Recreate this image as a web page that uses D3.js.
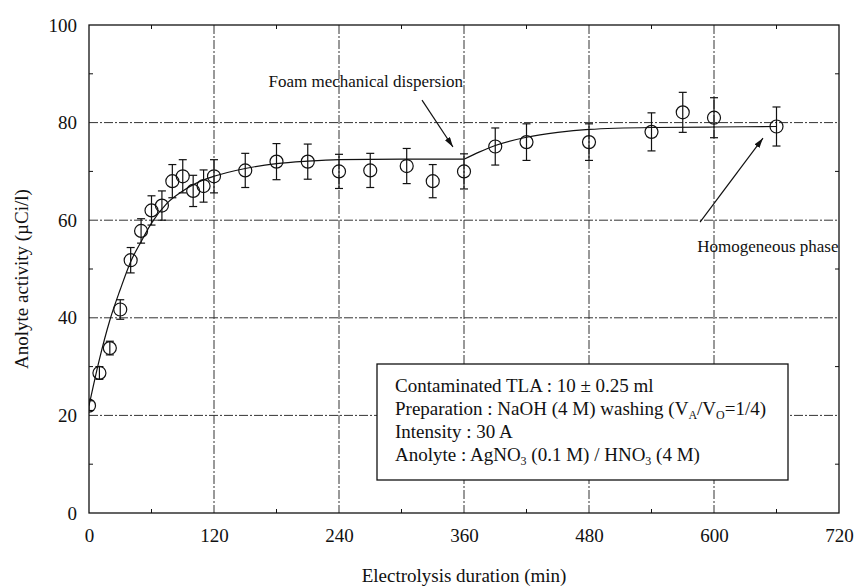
<!DOCTYPE html>
<html><head><meta charset="utf-8">
<script src="https://cdn.jsdelivr.net/npm/d3@7"></script>
<style>body{margin:0;background:#fff;} svg{display:block;} text{font-family:"Liberation Serif","Times New Roman",serif;fill:#111;}</style>
</head><body>
<svg id="chart" width="857" height="586"></svg>
<script>
// ---- data ----
const times    = [0,10,20,30,40,50,60,70,80,90,100,110,120,150,180,210,240,270,305,330,360,390,420,480,540,570,600,660];
const activity = [22,28.7,33.8,41.7,51.8,57.8,62,63,68,69,66,67,69,70.2,72,72,70,70.2,71.1,68,70,75.1,76,76,78.1,82.1,81,79.2];
const errors   = [1.0,1.3,1.4,2.0,2.6,2.5,3.0,3.0,3.4,3.4,3.2,3.3,3.4,3.5,3.7,3.6,3.5,3.5,3.6,3.4,3.6,3.8,3.75,3.75,3.9,4.1,4.1,4.0];
// fitted curve (two segments, kink at 360 min)
const fitTimes1  = [0,10,20,30,40,50,60,75,90,105,120,150,180,210,240,300,360];
const fitValues1 = [22,31.5,39.5,45.8,51.5,55.6,59.4,63.5,66,67.8,69,70.6,71.6,72.1,72.4,72.5,72.5];
const fitTimes2  = [360,375,390,420,450,480,540,600,660];
const fitValues2 = [72.5,74,75.3,77,78,78.6,79,79.1,79.2];
const xTicks = [0,120,240,360,480,600,720];
const yTicks = [0,20,40,60,80,100];
const xMinor = [60,180,300,420,540,660];
const yMinor = [10,30,50,70,90];
const xLabel = "Electrolysis duration (min)";
const yLabel = "Anolyte activity (µCi/l)";
const annotations = [
  {text:"Foam mechanical dispersion", tx:359, ty:87.3, anchor:"end", from:[319.7,84.6], to:[349.4,75]},
  {text:"Homogeneous phase", tx:584, ty:53.5, anchor:"start", from:[586.6,59.6], to:[647,76.8]}
];
const boxLines = [
  [{t:"Contaminated TLA : 10 ± 0.25 ml"}],
  [{t:"Preparation : NaOH (4 M) washing (V"},{t:"A",sub:true},{t:"/V"},{t:"O",sub:true},{t:"=1/4)"}],
  [{t:"Intensity : 30 A"}],
  [{t:"Anolyte : AgNO"},{t:"3",sub:true},{t:" (0.1 M) / HNO"},{t:"3",sub:true},{t:" (4 M)"}]
];

// ---- layout ----
const svg = d3.select("#chart");
const L = 89, R = 839, T = 25, B = 513;
const x = d3.scaleLinear().domain([0,720]).range([L,R]);
const y = d3.scaleLinear().domain([0,100]).range([B,T]);
const FS = 19;

svg.append("defs").append("clipPath").attr("id","clip")
  .append("rect").attr("x",L).attr("y",T).attr("width",R-L).attr("height",B-T);
const marker = svg.select("defs").append("marker").attr("id","arr")
  .attr("viewBox","0 0 10 6").attr("refX",10).attr("refY",3)
  .attr("markerWidth",10).attr("markerHeight",6).attr("markerUnits","userSpaceOnUse").attr("orient","auto");
marker.append("path").attr("d","M0,0L10,3L0,6Z").attr("fill","#111");

// grid
const grid = svg.append("g").attr("stroke","#333").attr("stroke-width",1).attr("stroke-dasharray","9,2,2,2");
grid.selectAll("line.gx").data(xTicks.slice(1,-1)).join("line")
  .attr("x1",d=>x(d)).attr("x2",d=>x(d)).attr("y1",T).attr("y2",B);
grid.selectAll("line.gy").data(yTicks.slice(1,-1)).join("line")
  .attr("y1",d=>y(d)).attr("y2",d=>y(d)).attr("x1",L).attr("x2",R);

// axes (labels) using d3 axis generators
const xAxis = svg.append("g").attr("transform",`translate(0,${B})`)
  .call(d3.axisBottom(x).tickValues(xTicks).tickSize(0).tickPadding(11));
const yAxis = svg.append("g").attr("transform",`translate(${L},0)`)
  .call(d3.axisLeft(y).tickValues(yTicks).tickSize(0).tickPadding(12));
[xAxis,yAxis].forEach(a=>{a.select(".domain").remove();
  a.selectAll("text").attr("font-size",FS).attr("font-family","Liberation Serif, serif").attr("fill","#111");});
xAxis.selectAll("text").attr("dy","0.95em");

// minor ticks on all sides (inward)
const tk = svg.append("g").attr("stroke","#111").attr("stroke-width",1);
xMinor.forEach(d=>{
  tk.append("line").attr("x1",x(d)).attr("x2",x(d)).attr("y1",B).attr("y2",B-4);
  tk.append("line").attr("x1",x(d)).attr("x2",x(d)).attr("y1",T).attr("y2",T+4);
});
yMinor.forEach(d=>{
  tk.append("line").attr("y1",y(d)).attr("y2",y(d)).attr("x1",L).attr("x2",L+4);
  tk.append("line").attr("y1",y(d)).attr("y2",y(d)).attr("x1",R).attr("x2",R-4);
});

// frame
svg.append("rect").attr("x",L).attr("y",T).attr("width",R-L).attr("height",B-T)
  .attr("fill","none").attr("stroke","#111").attr("stroke-width",1.3);

// legend box
const bx = 377, bw = 411, by = 364, bh = 116;
svg.append("rect").attr("x",bx).attr("y",by).attr("width",bw).attr("height",bh)
  .attr("fill","#fff").attr("stroke","#111").attr("stroke-width",1.3);
boxLines.forEach((parts,i)=>{
  const t = svg.append("text").attr("x",395).attr("y",by+28+i*23).attr("font-size",19);
  parts.forEach((p,j)=>{
    const s = t.append("tspan").text(p.t);
    if(p.sub){ s.attr("font-size",12).attr("dy",4); }
    else if(j>0 && parts[j-1].sub){ s.attr("dy",-4); }
  });
});

// fitted curve
const line = d3.line().x(d=>x(d[0])).y(d=>y(d[1])).curve(d3.curveMonotoneX);
const plot = svg.append("g").attr("clip-path","url(#clip)");
[[fitTimes1,fitValues1],[fitTimes2,fitValues2]].forEach(([ts,vs])=>{
  plot.append("path").datum(ts.map((t,i)=>[t,vs[i]])).attr("d",line)
    .attr("fill","none").attr("stroke","#111").attr("stroke-width",1.2);
});

// error bars + circles
const pts = times.map((t,i)=>({t,v:activity[i],e:errors[i]}));
const eb = plot.append("g").attr("stroke","#111").attr("stroke-width",1.2);
pts.forEach(p=>{
  eb.append("line").attr("x1",x(p.t)).attr("x2",x(p.t)).attr("y1",y(p.v-p.e)).attr("y2",y(p.v+p.e));
  [p.v-p.e,p.v+p.e].forEach(v=>eb.append("line").attr("x1",x(p.t)-4).attr("x2",x(p.t)+4).attr("y1",y(v)).attr("y2",y(v)));
});
plot.selectAll("circle").data(pts).join("circle")
  .attr("cx",d=>x(d.t)).attr("cy",d=>y(d.v)).attr("r",6.5)
  .attr("fill","none").attr("stroke","#111").attr("stroke-width",1.2);

// annotations
annotations.forEach(a=>{
  svg.append("text").attr("x",x(a.tx)).attr("y",y(a.ty)).attr("text-anchor",a.anchor)
    .attr("font-size",17).text(a.text);
  svg.append("line").attr("x1",x(a.from[0])).attr("y1",y(a.from[1]))
    .attr("x2",x(a.to[0])).attr("y2",y(a.to[1]))
    .attr("stroke","#111").attr("stroke-width",1.2).attr("marker-end","url(#arr)");
});

// axis titles
svg.append("text").attr("x",(L+R)/2).attr("y",582).attr("text-anchor","middle")
  .attr("font-size",FS).text(xLabel);
svg.append("text").attr("transform",`translate(28,${(T+B)/2+10}) rotate(-90)`)
  .attr("text-anchor","middle").attr("font-size",FS).text(yLabel);
</script>
</body></html>
